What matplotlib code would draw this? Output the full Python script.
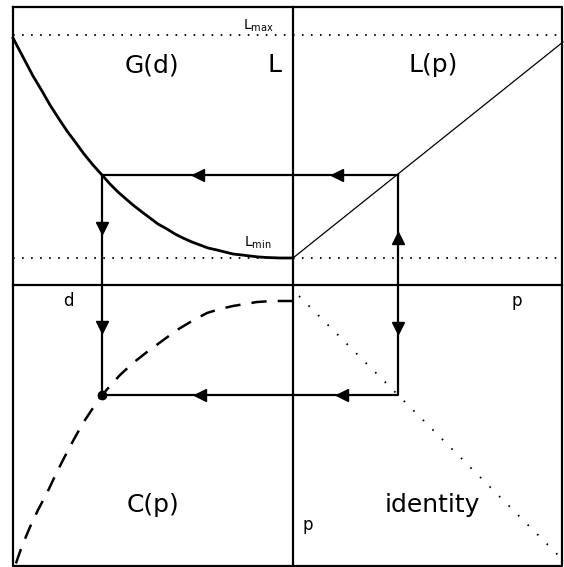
import matplotlib
matplotlib.use("Agg")
import matplotlib.pyplot as plt
import numpy as np

plt.rcParams['font.family'] = ['DejaVu Sans']
plt.rcParams['lines.scale_dashes'] = False
plt.rcParams['mathtext.fontset'] = 'dejavusans'

# Werte (Ursprung = Achsenkreuz)
L_max = 250
L_min = 27

# G(d): linker oberer Quadrant
g_d = [-280, -270, -260, -251, -243, -234, -226, -217, -209, -200, -191, -183, -175, -167, -160,
       -151, -143, -135, -126, -118, -110, -101, -93, -85, -76, -68, -60, -51, -43, -34, -26, -13, 0]
g_L = [247, 228, 209, 194, 180, 166, 154, 142, 131, 120, 110, 101, 93, 86, 80,
       73, 67, 61, 56, 51, 47, 43, 40, 37, 35, 33, 31, 30, 29, 28, 27.5, 27, 27]

# L(p): rechter oberer Quadrant (Gerade)
lp_p = [0, 105, 270]
lp_L = [27, 111, 243]

# C(p): linker unterer Quadrant (gestrichelt)
c_d = [0, -20, -36, -48, -60, -73, -86, -101, -116, -131, -146, -160, -173, -182, -191,
       -200, -210, -220, -230, -238, -246, -255, -263, -271, -278]
c_q = [-16, -16, -17, -19, -21, -24, -28, -36, -45, -56, -67, -78, -90, -100, -110,
       -123, -138, -156, -175, -191, -208, -225, -242, -261, -281]

# Identitaet: rechter unterer Quadrant
id_p = [6, 268]
id_q = [-11, -273]

# Kreislauf (Rechteck)
d0, p0, L0, q0 = -191, 105, 110, -110

# Pfeilpositionen
arr_top = [-95, 44]
arr_left = [57, -42]
arr_bottom = [-93, 49]

fig = plt.figure(figsize=(5.64, 5.67), dpi=100)
ax = fig.add_axes([0, 0, 1, 1])
ax.set_xlim(-293, 271)
ax.set_ylim(-282, 285)
ax.axis('off')

# Rahmen und Achsen
ax.plot([-280, 269, 269, -280, -280], [278, 278, -281, -281, 278], color='black', lw=1.6)
ax.plot([-280, 269], [0, 0], color='black', lw=1.6)
ax.plot([0, 0], [-281, 278], color='black', lw=1.6)

# gepunktete Linien L_max / L_min
ax.plot([-280, 269], [L_max, L_max], color='black', lw=1.3, ls=(0, (1.2, 5.3)))
ax.plot([-280, 269], [L_min, L_min], color='black', lw=1.3, ls=(0, (1.2, 5.3)))

# Kurven
ax.plot(g_d, g_L, color='black', lw=2.0)
ax.plot(lp_p, lp_L, color='black', lw=0.9)
ax.plot(c_d, c_q, color='black', lw=1.8, ls=(0, (11, 8)))
ax.plot(id_p, id_q, color='black', lw=1.3, ls=(0, (1.2, 8.5)))

# Rechteck
ax.plot([p0, d0, d0, p0, p0], [L0, L0, q0, q0, L0], color='black', lw=1.6)
ax.plot([d0], [q0], 'o', color='black', ms=6)

# Pfeile
ms = 9
ax.plot(arr_top, [L0, L0], '<', color='black', ms=ms)
ax.plot([d0, d0], arr_left, 'v', color='black', ms=ms)
ax.plot(arr_bottom, [q0, q0], '<', color='black', ms=ms)
ax.plot([p0], [47], '^', color='black', ms=ms)
ax.plot([p0], [-43], 'v', color='black', ms=ms)

# Beschriftungen
fs = 18
ax.text(-141, 220, 'G(d)', fontsize=fs, ha='center', va='center')
ax.text(-18, 220, 'L', fontsize=fs, ha='center', va='center')
ax.text(140, 220, 'L(p)', fontsize=fs, ha='center', va='center')
ax.text(-140, -220, 'C(p)', fontsize=fs, ha='center', va='center')
ax.text(139, -220, 'identity', fontsize=fs, ha='center', va='center')
ax.text(-225, -16, 'd', fontsize=12, ha='center', va='center')
ax.text(224, -16, 'p', fontsize=12, ha='center', va='center')
ax.text(15, -240, 'p', fontsize=12, ha='center', va='center')
ax.text(-35, 259, r'$\mathregular{L_{max}}$', fontsize=10, ha='center', va='center')
ax.text(-35, 42, r'$\mathregular{L_{min}}$', fontsize=10, ha='center', va='center')

plt.savefig('out.png', dpi=100)
